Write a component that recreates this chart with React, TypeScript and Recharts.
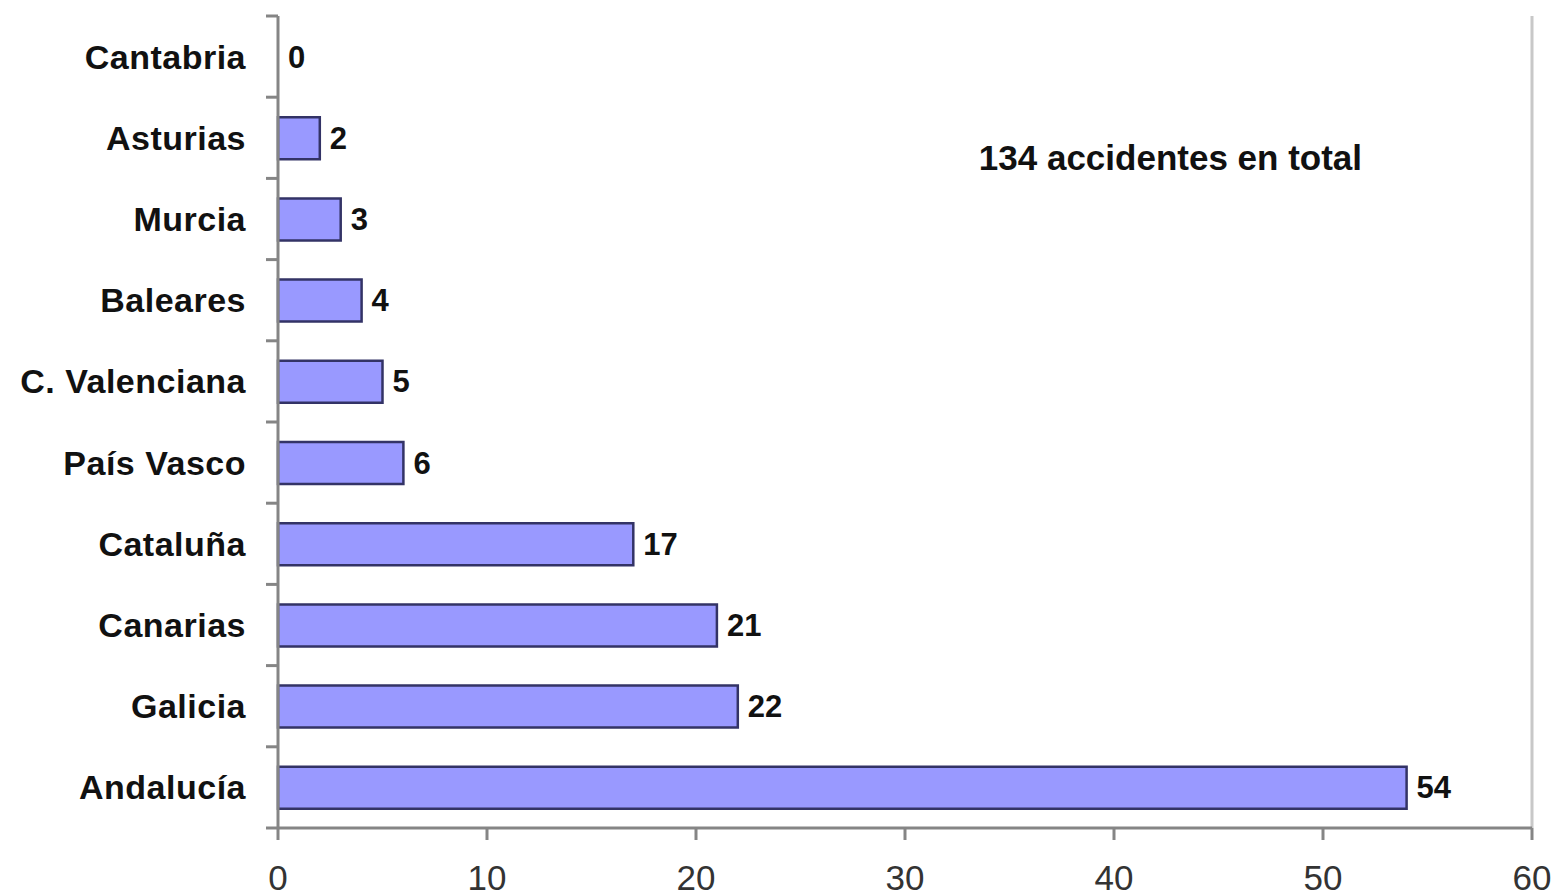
import React from 'react';
import {
  BarChart,
  Bar,
  Cell,
  XAxis,
  YAxis,
  LabelList,
  ReferenceLine,
  ReferenceDot,
} from 'recharts';

// Accidents per autonomous community (top to bottom)
const categories = [
  'Cantabria',
  'Asturias',
  'Murcia',
  'Baleares',
  'C. Valenciana',
  'País Vasco',
  'Cataluña',
  'Canarias',
  'Galicia',
  'Andalucía',
];
const accidents = [0, 2, 3, 4, 5, 6, 17, 21, 22, 54];
const xTicks = [0, 10, 20, 30, 40, 50, 60];
const totalNote = '134 accidentes en total';

const data = categories.map((name, i) => ({ name, value: accidents[i] }));

const FONT = '"Liberation Sans", Arial, Helvetica, sans-serif';
const AXIS_COLOR = '#858585';
const FRAME_COLOR = '#c8c8c8';
const BAR_FILL = '#9999ff';
const BAR_STROKE = '#333366';
const Y_TICK_SIZE = 12;
const Y_TICK_MARGIN = 20;

// Category label plus a tick mark on the band boundary above it
function CategoryTick(props: any) {
  const { x, y, payload, index, visibleTicksCount } = props;
  const half = payload && typeof payload.offset === 'number' ? payload.offset : 0;
  const lineX2 = x + Y_TICK_MARGIN + Y_TICK_SIZE;
  const lineX1 = x + Y_TICK_MARGIN;
  return (
    <g>
      <line x1={lineX1} x2={lineX2} y1={y - half} y2={y - half} stroke={AXIS_COLOR} strokeWidth={3} />
      {index === visibleTicksCount - 1 && (
        <line x1={lineX1} x2={lineX2} y1={y + half} y2={y + half} stroke={AXIS_COLOR} strokeWidth={3} />
      )}
      <text
        x={x}
        y={y}
        textAnchor="end"
        dominantBaseline="central"
        fontFamily={FONT}
        fontWeight="bold"
        fontSize={34}
        letterSpacing={0.5}
        fill="#111"
      >
        {payload.value}
      </text>
    </g>
  );
}

// Value printed just past the end of each bar (also for zero-length bars)
function ValueLabel(props: any) {
  const { x, y, width, height, value } = props;
  return (
    <text
      x={x + width + 10}
      y={y + height / 2}
      textAnchor="start"
      dominantBaseline="central"
      fontFamily={FONT}
      fontWeight="bold"
      fontSize={31}
      fill="#111"
    >
      {String(value)}
    </text>
  );
}

function NoteLabel(props: any) {
  const { viewBox } = props;
  const cx = viewBox.x + viewBox.width / 2;
  const cy = viewBox.y + viewBox.height / 2;
  return (
    <text
      x={cx}
      y={cy + 20}
      textAnchor="middle"
      dominantBaseline="central"
      fontFamily={FONT}
      fontWeight="bold"
      fontSize={35}
      fill="#111"
    >
      {totalNote}
    </text>
  );
}

export default function App() {
  return (
    <div style={{ position: 'absolute', left: 0, top: 0, background: '#fff' }}>
      <BarChart
        width={1556}
        height={895}
        data={data}
        layout="vertical"
        margin={{ top: 16, right: 24, bottom: 0, left: 0 }}
      >
        <XAxis
          xAxisId="frame"
          type="number"
          orientation="top"
          domain={[0, 60]}
          height={0}
          tick={false}
          tickLine={false}
          axisLine={{ stroke: FRAME_COLOR, strokeWidth: 3 }}
        />
        <XAxis
          type="number"
          domain={[0, 60]}
          ticks={xTicks}
          interval={0}
          height={67}
          tickSize={12}
          tickMargin={25}
          axisLine={{ stroke: AXIS_COLOR, strokeWidth: 3 }}
          tickLine={{ stroke: AXIS_COLOR, strokeWidth: 3 }}
          tick={{ fontFamily: FONT, fontSize: 35, fill: '#333' }}
        />
        <YAxis
          type="category"
          dataKey="name"
          width={278}
          interval={0}
          tickSize={Y_TICK_SIZE}
          tickMargin={Y_TICK_MARGIN}
          tickLine={false}
          axisLine={{ stroke: AXIS_COLOR, strokeWidth: 3 }}
          tick={<CategoryTick />}
        />
        <ReferenceLine x={60} stroke={FRAME_COLOR} strokeWidth={3} ifOverflow="visible" />
        <ReferenceDot x={42.7} y="Asturias" r={0} stroke="none" fill="none" label={<NoteLabel />} ifOverflow="visible" />
        <Bar
          dataKey="value"
          fill={BAR_FILL}
          stroke={BAR_STROKE}
          strokeWidth={2.5}
          barSize={42}
          minPointSize={(v: number) => (v === 0 ? 0.01 : 0)}
          isAnimationActive={false}
        >
          {data.map((d) => (
            <Cell key={d.name} stroke={d.value === 0 ? 'none' : BAR_STROKE} />
          ))}
          <LabelList dataKey="value" content={<ValueLabel />} />
        </Bar>
      </BarChart>
    </div>
  );
}
